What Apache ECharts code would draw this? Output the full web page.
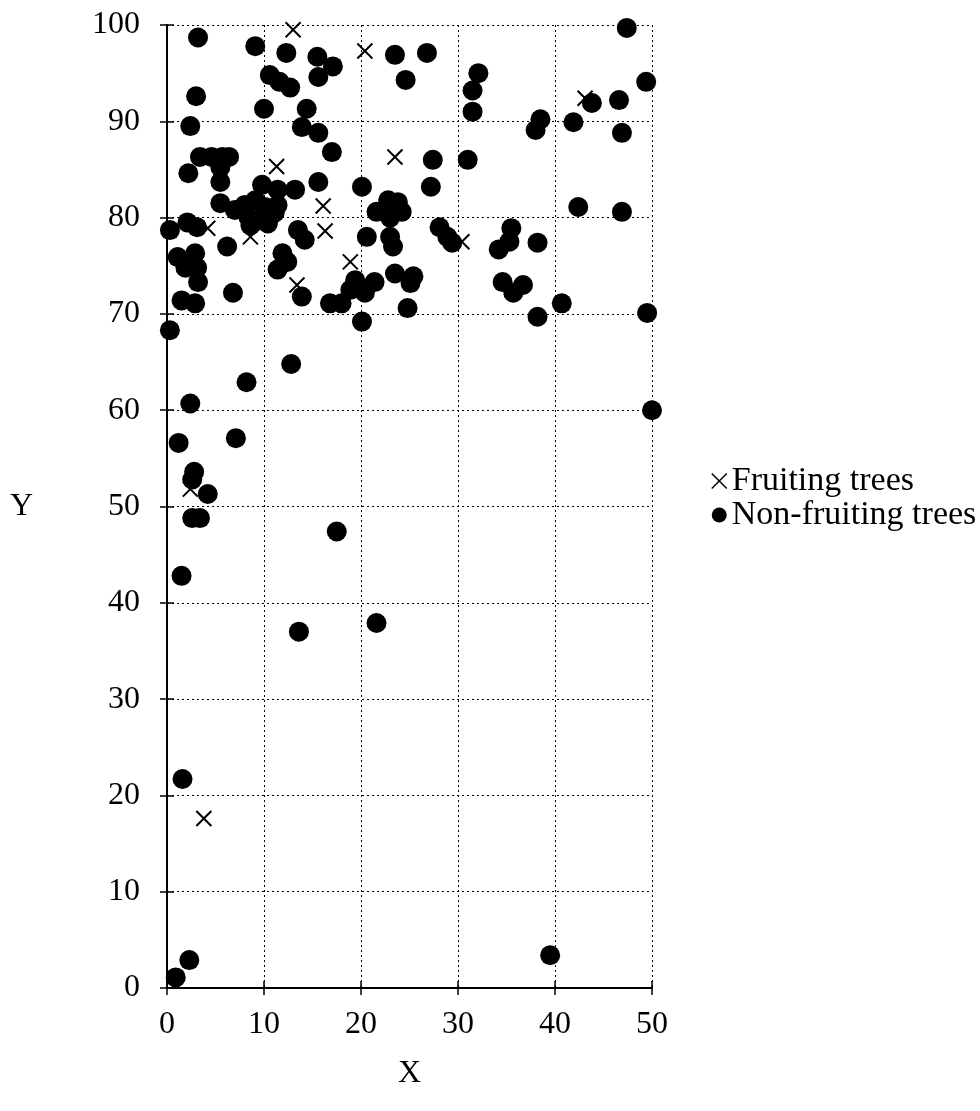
<!DOCTYPE html>
<html style="height: 100%">
<head>
    <meta charset="utf-8">
    <script src="https://cdn.jsdelivr.net/npm/echarts@6/dist/echarts.min.js"></script>
</head>
<body style="height: 100%; width: 100%; margin: 0; background-color: #fff;">
    <div id="container" style="width: 980px; height: 1111px;"></div>
    <script type="text/javascript">
        // tick labels
        var xTicks = [0, 10, 20, 30, 40, 50];
        var yTicks = [0, 10, 20, 30, 40, 50, 60, 70, 80, 90, 100];

        // fruiting trees [x, y]
        var fruiting = [
            [13.0, 99.5], [20.4, 97.3], [45.2, 100.2], [43.1, 92.4], [11.3, 85.3],
            [23.5, 86.3], [4.2, 78.9], [8.6, 78.0], [9.6, 80.1], [16.1, 81.2],
            [16.3, 78.6], [18.9, 75.4], [13.4, 73.0], [30.4, 77.5], [2.4, 51.8],
            [3.8, 17.6]
        ];

        // non-fruiting trees [x, y]
        var nonFruiting = [
            [3.2, 98.7], [9.1, 97.8], [12.3, 97.1], [15.5, 96.7], [15.6, 94.6], [17.1, 95.7],
            [10.6, 94.8], [11.6, 94.1], [12.7, 93.5], [23.5, 96.9], [26.8, 97.1], [24.6, 94.3],
            [32.1, 95.0], [31.5, 93.2], [31.5, 91.0], [47.4, 99.7], [49.4, 94.1], [43.8, 91.9],
            [46.6, 92.2], [38.5, 90.2], [38.0, 89.1], [41.9, 89.9], [46.9, 88.8],
            [3.0, 92.6], [10.0, 91.3], [14.4, 91.3], [2.4, 89.5], [13.9, 89.4], [15.6, 88.8], [17.0, 86.8],
            [3.4, 86.3], [4.6, 86.3], [5.7, 86.3], [6.4, 86.3], [27.4, 86.0], [31.0, 86.0],
            [2.2, 84.6], [5.5, 85.2], [5.5, 83.7], [15.6, 83.7], [9.8, 83.4], [11.4, 82.9],
            [13.2, 82.9], [20.1, 83.2], [27.2, 83.2],
            [5.5, 81.5], [7.0, 80.8], [8.0, 81.3], [9.1, 81.8], [10.1, 81.1], [10.6, 80.1],
            [11.1, 80.5], [8.4, 80.0], [8.8, 79.4], [10.4, 79.4], [11.4, 81.3], [8.6, 79.2],
            [0.3, 78.7], [2.1, 79.5], [3.1, 79.0], [6.2, 77.0],
            [1.1, 75.9], [2.9, 76.3], [1.9, 74.8], [3.1, 74.8], [3.2, 73.3], [1.5, 71.4],
            [2.9, 71.1], [6.8, 72.2],
            [13.5, 78.7], [14.2, 77.7], [11.9, 76.3], [11.4, 74.6], [12.4, 75.4], [13.9, 71.8],
            [16.8, 71.1], [18.0, 71.1],
            [22.8, 81.8], [23.8, 81.6], [21.6, 80.6], [24.2, 80.6], [23.0, 80.0], [23.0, 78.0],
            [23.3, 77.0], [20.6, 78.0],
            [28.1, 79.0], [28.9, 78.0], [29.4, 77.4],
            [35.5, 78.9], [35.3, 77.5], [34.2, 76.7], [38.2, 77.4], [34.6, 73.3], [36.7, 73.0],
            [35.7, 72.2], [40.7, 71.1], [38.2, 69.7], [49.5, 70.1], [42.4, 81.1], [46.9, 80.6],
            [19.4, 73.5], [18.9, 72.5], [20.4, 72.2], [21.4, 73.3], [19.9, 72.8], [23.5, 74.2],
            [25.4, 73.9], [25.1, 73.2], [24.8, 70.6], [20.1, 69.2],
            [0.3, 68.3], [12.8, 64.8], [8.2, 62.9], [50.0, 60.0], [2.4, 60.7], [1.2, 56.6],
            [7.1, 57.1], [2.8, 53.6], [2.6, 52.8], [4.2, 51.3], [2.6, 48.8], [3.4, 48.8],
            [17.5, 47.4], [1.5, 42.8], [13.6, 37.0], [21.6, 37.9], [1.6, 21.7], [0.9, 1.1],
            [2.3, 2.9], [39.5, 3.4]
        ];

        var font = 'Liberation Serif';
        var crossPath = 'path://M0,0L10,10M10,0L0,10';

        var dom = document.getElementById("container");
        var myChart = echarts.init(dom);

        function makeAxis(pos, ticks, showLabel, name) {
            return {
                type: 'value',
                position: pos,
                min: ticks[0],
                max: ticks[ticks.length - 1],
                interval: 10,
                name: name,
                nameLocation: 'middle',
                nameRotate: 0,
                nameTextStyle: { fontFamily: font, fontSize: 32, color: '#000' },
                axisLine: { show: true, lineStyle: { color: '#000', width: 2 } },
                axisTick: { show: true, inside: false, length: 7, lineStyle: { color: '#000', width: 1.5 } },
                axisLabel: {
                    show: showLabel,
                    fontFamily: font,
                    fontSize: 32,
                    color: '#000',
                    margin: pos === 'bottom' ? 21 : 27
                },
                splitLine: {
                    show: showLabel,
                    lineStyle: { color: '#000', type: [2, 3], width: 1 }
                }
            };
        }

        var xMain = makeAxis('bottom', xTicks, true, 'X');
        xMain.nameGap = 70;
        var yMain = makeAxis('left', yTicks, true, 'Y');
        yMain.nameGap = 134;

        option = {
            animation: false,
            grid: { left: 167, right: 328, top: 25, bottom: 123 },
            legend: {
                orient: 'vertical',
                left: 706,
                top: 459,
                itemGap: 0,
                itemWidth: 15,
                itemHeight: 15,
                textStyle: { fontFamily: font, fontSize: 34, lineHeight: 33, color: '#000' },
                data: [
                    { name: 'Fruiting trees', icon: crossPath, itemStyle: { color: 'rgba(0,0,0,0)', borderColor: '#000', borderWidth: 1.5 } },
                    { name: 'Non-fruiting trees', icon: 'circle', itemStyle: { color: '#000' } }
                ]
            },
            xAxis: [xMain, makeAxis('top', xTicks, false, '')],
            yAxis: [yMain, makeAxis('right', yTicks, false, '')],
            series: [
                {
                    name: 'Non-fruiting trees',
                    type: 'scatter',
                    symbol: 'circle',
                    symbolSize: 20,
                    itemStyle: { color: '#000', opacity: 1 },
                    data: nonFruiting
                },
                {
                    name: 'Fruiting trees',
                    type: 'scatter',
                    symbol: crossPath,
                    symbolSize: 15,
                    itemStyle: { color: 'rgba(0,0,0,0)', borderColor: '#000', borderWidth: 2, opacity: 1 },
                    data: fruiting
                }
            ]
        };

        if (option && typeof option === "object") {
            myChart.setOption(option, true);
        }
    </script>
</body>
</html>
